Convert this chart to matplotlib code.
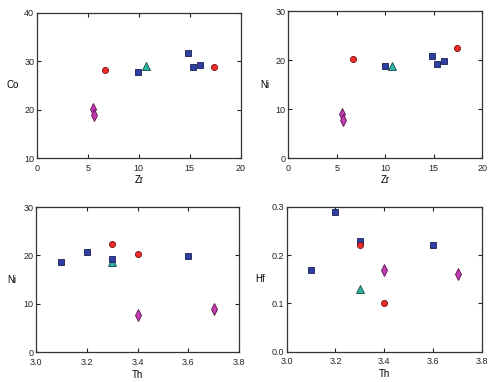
import matplotlib
matplotlib.use("Agg")
import matplotlib.pyplot as plt

plt.rcParams["font.family"] = ["Liberation Sans", "DejaVu Sans"]
plt.rcParams["font.size"] = 6.5

# Co / Ni vs Zr
zr_circle = [6.7, 17.4]
co_circle = [28.2, 28.7]
ni_zr_circle = [20.3, 22.4]

zr_square = [9.95, 14.85, 15.35, 16.05]
co_square = [27.8, 31.7, 28.7, 29.3]
ni_zr_square = [18.8, 20.8, 19.3, 19.9]

zr_tri = [10.7]
co_tri = [28.9]
ni_zr_tri = [18.7]

zr_dia = [5.5, 5.6]
co_dia = [20.2, 18.9]
ni_zr_dia = [9.0, 7.8]

# Ni / Hf vs Th
th_circle = [3.3, 3.4]
ni_th_circle = [22.4, 20.3]
hf_circle = [0.22, 0.10]

th_square = [3.1, 3.2, 3.3, 3.6]
ni_th_square = [18.7, 20.8, 19.3, 19.9]
hf_square = [0.17, 0.29, 0.23, 0.22]

th_tri = [3.3]
ni_th_tri = [18.6]
hf_tri = [0.13]

th_dia = [3.4, 3.7]
ni_th_dia = [7.7, 8.9]
hf_dia = [0.17, 0.16]

red = "#f42a2a"
blue = "#2f3f9f"
teal = "#2fb5a5"
magenta = "#c23db2"


def draw(ax, tri, sq, circ, dia):
    ax.plot(*tri, "^", ms=5.2, mfc=teal, mec="#104840", mew=0.6, ls="none")
    ax.plot(*sq, "s", ms=4.8, mfc=blue, mec="#151d55", mew=0.6, ls="none")
    ax.plot(*circ, "o", ms=4.4, mfc=red, mec="#701010", mew=0.6, ls="none")
    ax.plot(*dia, "d", ms=5.8, mfc=magenta, mec="#5a1050", mew=0.6, ls="none")


def style(ax, xlim, ylim, xticks, yticks, xlab, ylab, xfmt, yfmt):
    ax.set_xlim(*xlim)
    ax.set_ylim(*ylim)
    ax.set_xticks(xticks)
    ax.set_yticks(yticks)
    ax.set_xticklabels([xfmt.format(t) for t in xticks])
    ax.set_yticklabels([yfmt.format(t) for t in yticks])
    ax.tick_params(direction="in", top=True, right=True, length=3, width=0.8,
                   labelsize=6.5, colors="#222222")
    ax.tick_params(axis="x", pad=4)
    ax.tick_params(axis="y", pad=2)
    for s in ax.spines.values():
        s.set_linewidth(0.9)
        s.set_color("#333333")
    ax.set_xlabel(xlab, fontsize=7, labelpad=2)
    ax.set_ylabel(ylab, fontsize=7, rotation=0, labelpad=8, va="center")


fig = plt.figure(figsize=(4.94, 3.82), dpi=100)
ax1 = fig.add_axes([0.075, 0.586, 0.412, 0.381])
ax2 = fig.add_axes([0.584, 0.586, 0.392, 0.385])
ax3 = fig.add_axes([0.073, 0.078, 0.411, 0.380])
ax4 = fig.add_axes([0.580, 0.079, 0.396, 0.380])

draw(ax1, (zr_tri, co_tri), (zr_square, co_square),
     (zr_circle, co_circle), (zr_dia, co_dia))
style(ax1, (0, 20), (10, 40), [0, 5, 10, 15, 20], [10, 20, 30, 40],
      "Zr", "Co", "{:g}", "{:g}")

draw(ax2, (zr_tri, ni_zr_tri), (zr_square, ni_zr_square),
     (zr_circle, ni_zr_circle), (zr_dia, ni_zr_dia))
style(ax2, (0, 20), (0, 30), [0, 5, 10, 15, 20], [0, 10, 20, 30],
      "Zr", "Ni", "{:g}", "{:g}")

draw(ax3, (th_tri, ni_th_tri), (th_square, ni_th_square),
     (th_circle, ni_th_circle), (th_dia, ni_th_dia))
style(ax3, (3.0, 3.8), (0, 30), [3.0, 3.2, 3.4, 3.6, 3.8], [0, 10, 20, 30],
      "Th", "Ni", "{:.1f}", "{:g}")

draw(ax4, (th_tri, hf_tri), (th_square, hf_square),
     (th_circle, hf_circle), (th_dia, hf_dia))
style(ax4, (3.0, 3.8), (0, 0.3), [3.0, 3.2, 3.4, 3.6, 3.8], [0.0, 0.1, 0.2, 0.3],
      "Th", "Hf", "{:.1f}", "{:.1f}")

fig.savefig("out.png", dpi=100)
